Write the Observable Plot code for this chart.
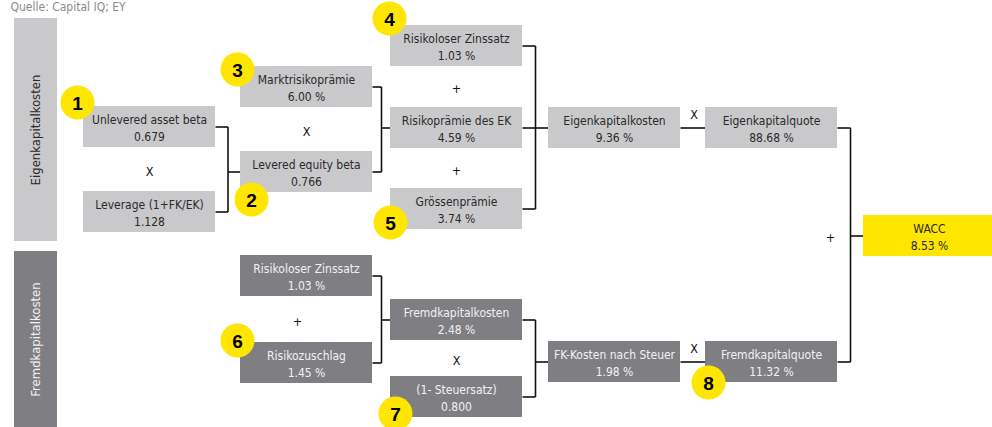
<!DOCTYPE html>
<html>
<head>
<meta charset="utf-8">
<script src="https://cdn.jsdelivr.net/npm/d3@7"></script>
<script src="https://cdn.jsdelivr.net/npm/@observablehq/plot@0.6"></script>
<style>
  html, body { margin: 0; padding: 0; background: #fff; }
  #chart svg { display: block; }
</style>
</head>
<body>
<div id="chart"></div>
<script>
// ---------- data ----------
const nodeLabels = [
  "Unlevered asset beta", "Leverage (1+FK/EK)", "Marktrisikoprämie", "Levered equity beta",
  "Risikoloser Zinssatz", "Risikoprämie des EK", "Grössenprämie", "Eigenkapitalkosten",
  "Eigenkapitalquote", "WACC", "Risikoloser Zinssatz", "Risikozuschlag",
  "Fremdkapitalkosten", "(1- Steuersatz)", "FK-Kosten nach Steuer", "Fremdkapitalquote"
];
const nodeValues = [
  "0.679", "1.128", "6.00 %", "0.766",
  "1.03 %", "4.59 %", "3.74 %", "9.36 %",
  "88.68 %", "8.53 %", "1.03 %", "1.45 %",
  "2.48 %", "0.800", "1.98 %", "11.32 %"
];
const nodeGroup = [
  "EK", "EK", "EK", "EK", "EK", "EK", "EK", "EK",
  "EK", "WACC", "FK", "FK", "FK", "FK", "FK", "FK"
];
const sideLabels = ["Eigenkapitalkosten", "Fremdkapitalkosten"];
const badgeNumbers = ["1", "2", "3", "4", "5", "6", "7", "8"];
const badgeNode = [0, 3, 2, 4, 6, 11, 13, 15];
// brackets: [sources, target]
const brackets = [[[0, 1], 3], [[2, 3], 5], [[4, 5, 6], 7], [[8, 15], 9], [[10, 11], 12], [[12, 13], 14]];
const straightLinks = [[7, 8], [14, 15]];
// operators: [symbol, kind, nodeA, nodeB]
const operators = [
  ["X", "between", 0, 1], ["X", "between", 2, 3], ["+", "between", 4, 5], ["+", "between", 5, 6],
  ["X", "above", 7, 8], ["+", "bracket", 9, 9], ["+", "between", 10, 11], ["X", "between", 12, 13],
  ["X", "above", 14, 15]
];
const caption = "Quelle: Capital IQ; EY";

// ---------- layout ----------
const W = 992, H = 427;
const colX = [83, 240, 390, 548, 705, 863];
const boxW = 132, boxH = 41;
const nodeCol = [0, 0, 1, 1, 2, 2, 2, 3, 4, 5, 1, 1, 2, 2, 3, 4];
const nodeCY = [126.5, 211.5, 86.5, 171.5, 45.5, 127.5, 208.5, 127.5, 127.5, 235.5, 275.5, 362.5, 319.5, 396.5, 361.5, 361.5];
const badgeOffset = [["top", -6, -4], ["bottom", 11, 7], ["top", -3, 3], ["top", -1, -7], ["bottom", 0, -7], ["top", -3, -2], ["bottom", 5, -4], ["bottom", 3, 0]];
const sideX = [14, 57];
const sideY = [[18, 241], [251, 427]];
const tone = {EK: "#c9c9cb", FK: "#7f7e83", WACC: "#ffe600"};
const ink = {EK: "#2a2a2a", FK: "#f2f2f2", WACC: "#2a2a2a"};

const nodes = nodeLabels.map((label, i) => ({
  label, value: nodeValues[i], group: nodeGroup[i],
  x1: colX[nodeCol[i]], x2: colX[nodeCol[i]] + boxW,
  y1: nodeCY[i] - boxH / 2, y2: nodeCY[i] + boxH / 2,
  cx: colX[nodeCol[i]] + boxW / 2, cy: nodeCY[i]
}));

const segs = [];
for (const [src, tgt] of brackets) {
  const t = nodes[tgt];
  const bx = (nodes[src[0]].x2 + t.x1) / 2;
  const ys = src.map(s => nodes[s].cy);
  for (const s of src) segs.push({x1: nodes[s].x2, y1: nodes[s].cy, x2: bx, y2: nodes[s].cy});
  segs.push({x1: bx, y1: d3.min(ys), x2: bx, y2: d3.max(ys)});
  segs.push({x1: bx, y1: t.cy, x2: t.x1, y2: t.cy});
}
for (const [a, b] of straightLinks) {
  segs.push({x1: nodes[a].x2, y1: nodes[a].cy, x2: nodes[b].x1, y2: nodes[b].cy});
}

const ops = operators.map(([sym, kind, a, b]) => {
  const A = nodes[a], B = nodes[b];
  if (kind === "between") return {sym, x: A.cx - (a === 10 ? 9 : 0), y: (A.y2 + B.y1) / 2 + 2};
  if (kind === "above") return {sym, x: (A.x2 + B.x1) / 2 + 1, y: A.cy - 13};
  return {sym, x: A.x1 - 33, y: A.cy + 2};
});

const badges = badgeNumbers.map((n, i) => {
  const nd = nodes[badgeNode[i]];
  const [edge, dx, dy] = badgeOffset[i];
  return {n, x: nd.x1 + dx, y: (edge === "top" ? nd.y1 : nd.y2) + dy};
});

const sides = sideLabels.map((label, i) => ({
  label, group: i === 0 ? "EK" : "FK",
  x1: sideX[0], x2: sideX[1], y1: sideY[i][0], y2: sideY[i][1],
  cx: (sideX[0] + sideX[1]) / 2, cy: (sideY[i][0] + sideY[i][1]) / 2
}));

const font = "'Liberation Sans Narrow', 'Arial Narrow', 'DejaVu Sans Condensed', sans-serif";

const chart = Plot.plot({
  width: W, height: H, margin: 0,
  x: {domain: [0, W], range: [0, W], axis: null},
  y: {domain: [0, H], range: [0, H], axis: null},
  style: {background: "#fff", fontFamily: font},
  marks: [
    Plot.text([caption], {x: 10, y: 7, text: d => d, textAnchor: "start", fill: "#8a8a8a", fontSize: 12}),
    Plot.rect(sides, {x1: "x1", x2: "x2", y1: "y1", y2: "y2", fill: d => tone[d.group]}),
    Plot.text(sides, {x: "cx", y: "cy", text: "label", rotate: -90, fill: d => ink[d.group], fontSize: 13}),
    Plot.link(segs, {x1: "x1", y1: "y1", x2: "x2", y2: "y2", stroke: "#111", strokeWidth: 1.6}),
    Plot.rect(nodes, {x1: "x1", x2: "x2", y1: "y1", y2: "y2", fill: d => tone[d.group]}),
    Plot.text(nodes, {x: "cx", y: "cy", text: d => d.label + "\n" + d.value, lineHeight: 1.4, fill: d => ink[d.group], fontSize: 12}),
    Plot.text(ops, {x: "x", y: "y", text: "sym", fill: "#111", fontSize: 12.5}),
    Plot.dot(badges, {x: "x", y: "y", r: 17, fill: "#ffe600", stroke: "none"}),
    Plot.text(badges, {x: "x", y: "y", dy: 1, text: "n", fill: "#000", fontSize: 19, fontWeight: "bold", fontFamily: "'Liberation Sans', Arial, sans-serif"})
  ]
});
document.getElementById("chart").appendChild(chart);
</script>
</body>
</html>
